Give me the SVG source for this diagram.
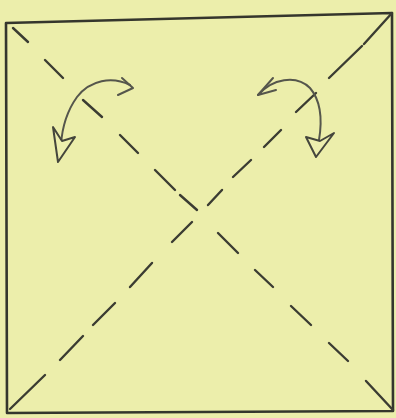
<svg xmlns="http://www.w3.org/2000/svg" width="396" height="418" viewBox="0 0 396 418">
<style>
.edge{fill:none;stroke:#35362d;stroke-width:2.6;stroke-linejoin:round;stroke-linecap:round}
.dash{fill:none;stroke:#3b3c32;stroke-width:2.4;stroke-linecap:round}
.arc{fill:none;stroke:#55564c;stroke-width:2;stroke-linecap:round;stroke-linejoin:round}
.hollow{fill:#edefae;stroke:#45463c;stroke-width:2;stroke-linejoin:round}
</style>
<rect x="0" y="0" width="396" height="418" fill="#eceeab"/>
<g id="square">
<path class="edge" d="M6,23 L392,13 L393,411 L7,413 Z"/>
</g>
<g id="connectors">
<path class="dash" d="M13,28 L28,42 M45,60 L63,78 M83,100 L102,117 M120,135 L138,153 M155,170 L175,190 M180,195 L197,210 M218,233 L238,253 M255,270 L273,287 M291,306 L311,325 M329,343 L348,361 M366,381 L393,410"/>
<path class="dash" d="M10,409 L45,375 M60,360 L83,336 M93,325 L115,303 M130,287 L152,263 M172,242 L192,222 M208,205 L222,190 M233,177 L251,160 M264,147 L281,130 M296,112 L316,93 M329,78 L362,46 M364,44 L392,13"/>
</g>
<g id="arrow-left">
<path class="arc" d="M130,85 C112,76 90,80 77,97 C67,111 62,128 61,145"/>
<path class="arc" d="M122,78 L133,88 L118,95"/>
<polygon class="hollow" points="53,127 58,162 75,137 62,141"/>
</g>
<g id="arrow-right">
<path class="arc" d="M258,95 C272,79 296,74 310,88 C322,102 322,122 319,140"/>
<path class="arc" d="M273,78 L258,95 L276,90"/>
<polygon class="hollow" points="306,137 316,157 334,133 320,141"/>
</g>
</svg>
